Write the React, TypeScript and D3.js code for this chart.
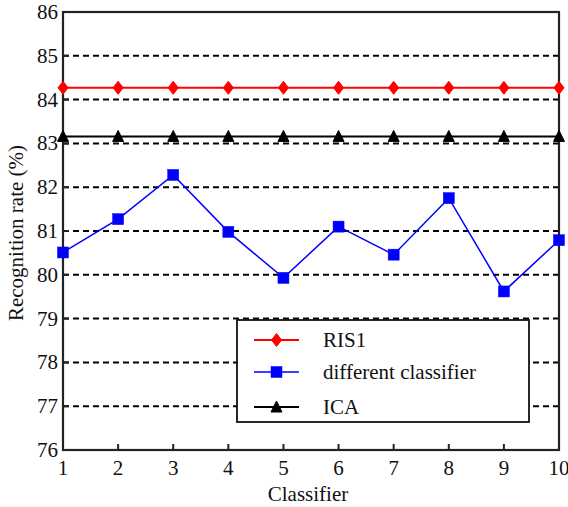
import React from "react";
import * as d3 from "d3";

const classifiers = [1, 2, 3, 4, 5, 6, 7, 8, 9, 10];
const ris1 = [84.27, 84.27, 84.27, 84.27, 84.27, 84.27, 84.27, 84.27, 84.27, 84.27];
const different = [80.51, 81.27, 82.28, 80.98, 79.93, 81.1, 80.46, 81.75, 79.62, 80.79];
const ica = [83.16, 83.16, 83.16, 83.16, 83.16, 83.16, 83.16, 83.16, 83.16, 83.16];
const yTicks = [76, 77, 78, 79, 80, 81, 82, 83, 84, 85, 86];
const seriesNames = ["RIS1", "different classifier", "ICA"];

const W = 568, H = 507;
const L = 63, R = 559, T = 12, B = 450;
const FONT = "'Liberation Serif', 'Times New Roman', serif";

const x = d3.scaleLinear().domain([1, 10]).range([L, R]);
const y = d3.scaleLinear().domain([76, 86]).range([B, T]);

const diamond = (cx: number, cy: number) =>
  `M${cx},${cy - 6.5}L${cx + 5},${cy}L${cx},${cy + 6.5}L${cx - 5},${cy}Z`;
const triangle = (cx: number, cy: number) =>
  `M${cx},${cy - 6}L${cx + 5.5},${cy + 5}L${cx - 5.5},${cy + 5}Z`;

function Marker({ kind, cx, cy }: { kind: string; cx: number; cy: number }) {
  if (kind === "diamond") return <path d={diamond(cx, cy)} fill="#ff0000" stroke="#ff0000" strokeWidth={1} />;
  if (kind === "square") return <rect x={cx - 5.5} y={cy - 5.5} width={11} height={11} fill="#0000ff" stroke="#0000ff" strokeWidth={0.5} />;
  return <path d={triangle(cx, cy)} fill="#000" stroke="#000" strokeWidth={1} />;
}

export default function App() {
  const line = d3.line<number>().x((_, i) => x(classifiers[i])).y((v) => y(v));
  const series = [
    { name: seriesNames[0], data: ris1, color: "#ff0000", width: 2, kind: "diamond" },
    { name: seriesNames[1], data: different, color: "#0000ff", width: 1.5, kind: "square" },
    { name: seriesNames[2], data: ica, color: "#000000", width: 2, kind: "triangle" },
  ];
  const legY = [340, 372, 407];
  return (
    <svg width={W} height={H} style={{ position: "absolute", left: 0, top: 0, background: "#fff" }} fontFamily={FONT}>
      <rect x={0} y={0} width={W} height={H} fill="#fff" />
      {yTicks.slice(1, -1).map((t) => (
        <line key={"g" + t} x1={L} x2={R} y1={y(t)} y2={y(t)} stroke="#000" strokeWidth={2} strokeDasharray="6,4" />
      ))}
      <rect x={L} y={T} width={R - L} height={B - T} fill="none" stroke="#222" strokeWidth={2.2} />
      {classifiers.map((c) => (
        <g key={"xt" + c}>
          <line x1={x(c)} x2={x(c)} y1={B} y2={B - 6} stroke="#222" strokeWidth={2} />
          <text x={x(c)} y={468} textAnchor="middle" dominantBaseline="central" fontSize={21} fill="#111">{c}</text>
        </g>
      ))}
      {yTicks.map((t) => (
        <g key={"yt" + t}>
          <line x1={L} x2={L + 6} y1={y(t)} y2={y(t)} stroke="#222" strokeWidth={2} />
          <text x={58} y={y(t)} textAnchor="end" dominantBaseline="central" fontSize={21} fill="#111">{t}</text>
        </g>
      ))}
      {series.map((s) => (
        <g key={s.name}>
          <path d={line(s.data) || ""} fill="none" stroke={s.color} strokeWidth={s.width} />
          {s.data.map((v, i) => (
            <Marker key={i} kind={s.kind} cx={x(classifiers[i])} cy={y(v)} />
          ))}
        </g>
      ))}
      <rect x={237} y={320} width={292} height={102} fill="#fff" stroke="#111" strokeWidth={1.8} />
      {series.map((s, i) => (
        <g key={"lg" + s.name}>
          <line x1={254} x2={299} y1={legY[i]} y2={legY[i]} stroke={s.color} strokeWidth={s.width} />
          <Marker kind={s.kind} cx={276.5} cy={legY[i]} />
          <text x={323} y={legY[i]} dominantBaseline="central" fontSize={21} fill="#111">{s.name}</text>
        </g>
      ))}
      <text x={308} y={494} textAnchor="middle" dominantBaseline="central" fontSize={21} fill="#111">Classifier</text>
      <text transform={`translate(16,${(T + B) / 2 + 2}) rotate(-90)`} textAnchor="middle" dominantBaseline="central" fontSize={21} fill="#111">Recognition rate (%)</text>
    </svg>
  );
}
